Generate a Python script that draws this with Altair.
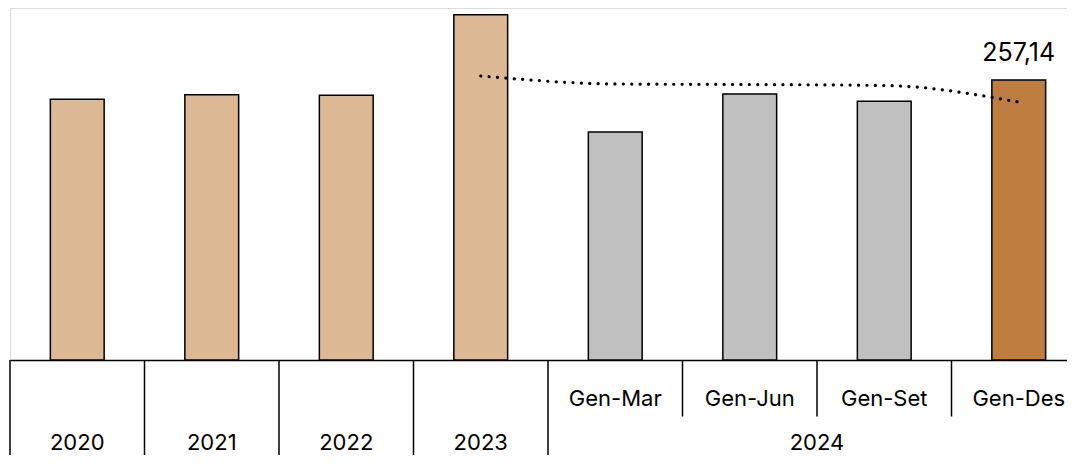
import altair as alt
import pandas as pd

categories = ["2020", "2021", "2022", "2023", "Gen-Mar", "Gen-Jun", "Gen-Set", "Gen-Des"]
values = [239.4, 243.6, 243.1, 317.1, 209.4, 244.3, 237.6, 257.14]
groups = ["anno", "anno", "anno", "anno", "parziale", "parziale", "parziale", "ultimo"]

trend_categories = ["2023", "Gen-Mar", "Gen-Jun", "Gen-Set", "Gen-Des"]
trend_values = [260.8, 253.5, 253.0, 252.1, 236.9]

label_category = ["Gen-Des"]
label_value = [257.14]
label_text = ["257,14"]

sub_labels = ["Gen-Mar", "Gen-Jun", "Gen-Set", "Gen-Des"]
year_labels = ["2020", "2021", "2022", "2023"]
year_2024 = ["2024"]
year_2024_anchor = ["Gen-Set"]

tall_sep = ["2020", "2021", "2022", "2023", "Gen-Mar"]
short_sep = ["Gen-Jun", "Gen-Set", "Gen-Des"]

FONT = "Inter"
FS = 22

bars_df = pd.DataFrame({"cat": categories, "val": values, "grp": groups})
trend_df = pd.DataFrame({"cat": trend_categories, "val": trend_values})
lab_df = pd.DataFrame({"cat": label_category, "val": label_value, "txt": label_text})
sub_df = pd.DataFrame({"cat": sub_labels})
yr_df = pd.DataFrame({"cat": year_labels, "txt": year_labels})
y24_df = pd.DataFrame({"cat": year_2024_anchor, "txt": year_2024})
tall_df = pd.DataFrame({"cat": tall_sep})
short_df = pd.DataFrame({"cat": short_sep})

xscale = alt.Scale(domain=categories, paddingInner=0, paddingOuter=0, range=[0, 1076])
yscale = alt.Scale(domain=[0, 323.26])

x_axis = alt.Axis(labels=False, ticks=False, title=None, domainColor="black", domainWidth=1.5, grid=False)

bars = alt.Chart(bars_df).mark_bar(
    width=alt.RelativeBandSize(0.4), stroke="black", strokeWidth=1.5
).encode(
    x=alt.X("cat:N", scale=xscale, axis=x_axis, sort=categories),
    y=alt.Y("val:Q", scale=yscale, axis=None),
    color=alt.Color("grp:N", scale=alt.Scale(domain=["anno", "parziale", "ultimo"],
                                             range=["#DCB894", "#C0C0C0", "#BD7E40"]), legend=None),
)

trend = alt.Chart(trend_df).mark_line(
    color="black", strokeWidth=3.2, strokeDash=[0.1, 8.3], strokeCap="round", interpolate="monotone"
).encode(
    x=alt.X("cat:N", scale=xscale, sort=categories, bandPosition=0.5),
    y=alt.Y("val:Q", scale=yscale),
)

label = alt.Chart(lab_df).mark_text(
    font=FONT, fontSize=25, color="black", baseline="alphabetic", dy=-19
).encode(
    x=alt.X("cat:N", scale=xscale, sort=categories, bandPosition=0.5),
    y=alt.Y("val:Q", scale=yscale),
    text="txt:N",
)

tall = alt.Chart(tall_df).mark_rule(color="black", strokeWidth=1.5).encode(
    x=alt.X("cat:N", scale=xscale, sort=categories, bandPosition=0),
    y=alt.value(352), y2=alt.value(470),
)
short = alt.Chart(short_df).mark_rule(color="black", strokeWidth=1.5).encode(
    x=alt.X("cat:N", scale=xscale, sort=categories, bandPosition=0),
    y=alt.value(352), y2=alt.value(408.5),
)

sub = alt.Chart(sub_df).mark_text(font=FONT, fontSize=FS, color="black", baseline="middle").encode(
    x=alt.X("cat:N", scale=xscale, sort=categories, bandPosition=0.5),
    y=alt.value(390.5),
    text="cat:N",
)
yrs = alt.Chart(yr_df).mark_text(font=FONT, fontSize=FS, color="black", baseline="middle").encode(
    x=alt.X("cat:N", scale=xscale, sort=categories, bandPosition=0.5),
    y=alt.value(434.5),
    text="txt:N",
)
y24 = alt.Chart(y24_df).mark_text(font=FONT, fontSize=FS, color="black", baseline="middle").encode(
    x=alt.X("cat:N", scale=xscale, sort=categories, bandPosition=0),
    y=alt.value(434.5),
    text="txt:N",
)

chart = alt.layer(bars, trend, label, tall, short, sub, yrs, y24).properties(
    width=1057, height=352,
    autosize=alt.AutoSizeParams(type="none"),
    padding={"left": 2, "top": 0, "right": 0, "bottom": 95},
).configure_view(stroke="transparent", strokeWidth=0).configure(background="white")

chart.save("out.html", embed_options={"renderer": "svg", "actions": False})
